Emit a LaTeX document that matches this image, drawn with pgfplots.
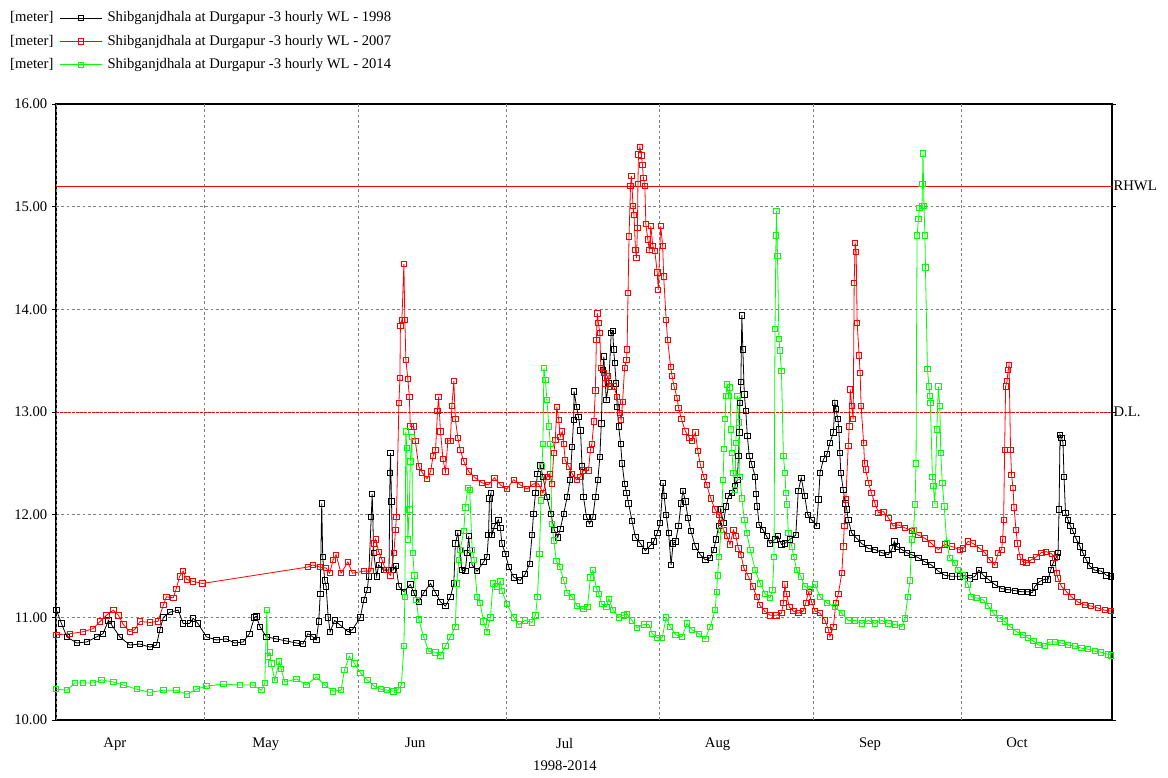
\documentclass[border=0pt]{standalone}
\usepackage{fontspec}
\setmainfont{Liberation Serif}
\usepackage{pgfplots}
\pgfplotsset{compat=1.18}
\definecolor{wlgreen}{RGB}{0,255,0}
\definecolor{wlred}{RGB}{255,0,0}
\begin{document}
\begin{tikzpicture}
\begin{axis}[
  scale only axis, width=792pt, height=462pt,
  xmin=0, xmax=213.4, ymin=10, ymax=16,
  clip=false,
  axis line style={black, line width=0.8pt},
  font=\fontsize{11}{13}\selectfont,
  ticklabel style={font=\fontsize{11}{13}\selectfont},
  /pgf/number format/assume math mode=true,
  ytick={10,11,12,13,14,15,16},
  yticklabel style={/pgf/number format/fixed, /pgf/number format/fixed zerofill, /pgf/number format/precision=2},
  ymajorgrids,
  grid style={gray, dash pattern=on 2pt off 2pt, line width=0.5pt},
  tick align=outside,
  major tick length=3pt,
  ytick style={black, line width=0.5pt},
  xtick={11.9,42.4,72.6,102.8,133.7,164.5,194.2},
  xticklabels={Apr,May,Jun,Jul,Aug,Sep,Oct},
  xtick style={draw=none},
  xticklabel style={yshift=-7pt},
  extra x ticks={0,30,61,91,122,153,183},
  extra x tick labels={},
  extra x tick style={grid=major, major tick length=6pt, tick style={draw=gray, dash pattern=on 2pt off 2pt, line width=0.5pt}},
  xlabel={1998-2014},
  xlabel style={at={(axis description cs:0.482,0)}, anchor=north, yshift=-27pt, font=\fontsize{11}{13}\selectfont},
  legend style={at={(axis description cs:-0.0436,1.052)}, anchor=south west, draw=none, fill=none, inner sep=0pt,
    font=\fontsize{11}{13}\selectfont, row sep=7pt, column sep=4pt,
    nodes={inner sep=0pt, text height=8pt, text depth=2.5pt}},
  legend cell align=left,
  legend image code/.code={
    \node[anchor=east, text=black, inner sep=0pt] at (-4.5pt,0pt) {[meter]};
    \draw[mark repeat=2,mark phase=2,#1] plot coordinates {(0pt,0pt) (15.75pt,0pt) (31.5pt,0pt)};
  },
  every axis plot/.append style={line width=0.6pt, mark=square, mark size=2pt, mark options={solid, line width=0.6pt}},
]
% reference lines
\addplot[wlred, line width=0.8pt, mark=none, forget plot] coordinates {(0,15.2) (213.4,15.2)};
\addplot[wlred, line width=0.6pt, mark=none, dash pattern=on 2pt off 1pt, forget plot] coordinates {(0,13) (213.4,13)};
\node[anchor=west, inner sep=1pt] at (axis cs:213.4,15.2) {RHWL};
\node[anchor=west, inner sep=1pt] at (axis cs:213.4,13) {D.L.};

% 1998
\addplot[black] coordinates {
(0.1,11.07) (1.1,10.94) (2.2,10.81) (4.2,10.75) (6.2,10.76) (8.2,10.81) (9.5,10.84) (10.6,10.97) (11.2,10.93) (12.9,10.81) (14.9,10.73) (16.9,10.74) (19.0,10.71) (20.3,10.73) (21.0,10.88) (21.7,11.00) (23.0,11.05) (24.7,11.07) (25.7,10.94) (27.0,10.94) (27.7,10.99) (28.7,10.94) (30.4,10.81) (32.4,10.78) (34.4,10.79) (36.1,10.75) (37.8,10.76) (39.1,10.84) (40.1,11.00) (40.5,11.01) (41.2,10.91) (42.5,10.81) (44.5,10.79) (46.5,10.77) (48.6,10.75) (49.9,10.74) (50.9,10.84) (51.9,10.81) (52.6,10.78) (53.1,10.96) (53.4,11.23) (53.7,12.11) (53.9,11.59) (54.3,11.36) (54.6,11.30) (55.0,11.00) (55.4,10.86) (56.3,10.97) (57.3,10.93) (59.0,10.86)
(59.9,10.88) (61.5,11.00) (62.2,11.17) (62.9,11.27) (63.2,11.40) (63.7,11.98) (63.9,12.20) (64.2,11.63) (64.8,11.40) (65.2,11.51) (66.2,11.46) (67.3,11.46) (67.5,12.41) (67.6,12.60) (67.8,12.13) (68.1,11.46) (68.7,11.50) (69.3,11.30) (70.3,11.25) (71.6,11.32) (72.3,11.24) (73.3,11.15) (74.3,11.24) (75.7,11.33) (76.7,11.24) (77.7,11.15) (78.7,11.11) (79.7,11.20) (80.4,11.33) (80.7,11.72) (81.2,11.82) (81.6,11.66) (82.0,11.46) (82.7,11.45) (83.1,11.63) (83.4,11.79) (83.6,11.66) (84.1,11.51) (85.1,11.45) (86.4,11.54) (87.1,11.59) (87.4,11.80) (87.6,12.16) (87.9,12.21) (88.1,11.80) (88.6,11.89) (89.4,11.95) (89.8,11.87)
(90.1,11.72) (90.8,11.62) (91.5,11.49) (92.5,11.39) (93.8,11.36) (94.8,11.42) (95.7,11.52) (96.2,11.80) (96.5,12.01) (96.9,12.21) (97.3,12.40) (97.9,12.48) (98.4,12.37) (99.2,12.17) (100.0,12.01) (100.7,11.85) (101.4,11.78) (101.9,11.86) (102.6,12.01) (103.3,12.17) (103.9,12.34) (104.3,12.66) (104.6,12.92) (104.7,13.20) (105.2,13.05) (105.6,12.95) (106.0,12.82) (106.3,12.47) (106.6,12.17) (107.2,11.98) (107.8,11.91) (108.5,11.98) (109.0,12.17) (109.5,12.34) (109.9,12.56) (110.2,12.89) (110.5,13.41) (110.7,13.54) (111.2,13.12) (111.7,13.28) (112.2,13.77) (112.5,13.79) (112.7,13.61) (112.9,13.48) (113.2,13.28) (113.4,13.05) (113.7,12.86) (114.1,12.69) (114.4,12.50) (114.9,12.30) (115.3,12.21) (115.7,12.11) (116.4,11.94) (117.1,11.78) (118.1,11.72) (119.1,11.65) (120.1,11.70)
(120.8,11.74) (121.5,11.82) (122.1,11.92) (122.7,12.31) (122.9,12.18) (123.3,12.00) (123.8,11.82) (124.3,11.51) (124.7,11.72) (125.2,11.74) (125.8,11.89) (126.3,12.11) (126.7,12.23) (127.2,12.13) (127.7,11.97) (128.3,11.84) (129.2,11.69) (130.2,11.61) (131.2,11.56) (132.2,11.58) (132.9,11.66) (133.4,11.76) (133.9,11.89) (134.3,12.05) (134.9,11.92) (135.4,12.08) (135.9,12.18) (136.6,12.21) (137.2,12.28) (137.7,12.34) (137.9,12.57) (138.1,12.80) (138.2,13.09) (138.4,13.29) (138.6,13.94) (138.8,13.61) (139.1,13.17) (139.4,13.01) (139.7,12.77) (140.1,12.57) (140.6,12.49) (141.3,12.37) (141.5,12.20) (141.7,12.08) (142.1,11.90) (142.9,11.85) (143.6,11.79) (144.3,11.72) (145.3,11.76) (145.9,11.79) (146.6,11.71) (147.3,11.72) (148.3,11.76) (149.5,11.80) (150.0,12.23) (150.6,12.36) (151.3,12.18)
(151.9,12.00) (152.7,11.95) (153.7,11.89) (154.1,12.15) (154.4,12.41) (155.1,12.54) (155.8,12.59) (156.4,12.70) (157.1,12.80) (157.4,13.09) (157.6,13.03) (158.0,12.93) (158.2,12.83) (158.4,12.60) (158.6,12.41) (159.1,12.24) (159.5,12.11) (159.8,12.05) (160.1,11.95) (160.8,11.82) (161.8,11.77) (162.8,11.72) (164.2,11.67) (165.5,11.66) (166.9,11.63) (168.2,11.61) (169.0,11.67) (169.4,11.74) (169.9,11.69) (170.9,11.66) (171.9,11.63) (172.9,11.61) (174.3,11.58) (175.6,11.54) (176.9,11.51) (178.3,11.45) (179.6,11.41) (181.0,11.40)
(182.7,11.40) (183.7,11.41) (184.7,11.38) (185.7,11.40) (186.5,11.46) (187.4,11.41) (188.4,11.37) (189.7,11.32) (191.1,11.28) (192.4,11.27) (193.8,11.26) (195.1,11.25) (196.4,11.25) (197.3,11.24) (197.8,11.30) (198.8,11.35) (199.8,11.37) (200.5,11.37) (201.0,11.46) (201.5,11.53) (202.2,11.59) (202.5,11.63) (202.7,12.05) (202.9,12.78) (203.2,12.75) (203.5,12.70) (203.7,12.37) (204.0,12.02) (204.5,11.95) (205.0,11.89) (205.5,11.84) (206.2,11.76) (206.9,11.69) (207.5,11.63) (208.2,11.56) (208.9,11.50) (209.9,11.46) (211.2,11.45) (212.3,11.41) (213.2,11.40)
};
\addlegendentry{Shibganjdhala at Durgapur -3 hourly WL - 1998}

% 2007
\addplot[wlred] coordinates {
(0.1,10.83) (2.8,10.84) (5.5,10.86) (7.5,10.89) (8.9,10.96) (10.2,11.02) (11.6,11.07) (12.6,11.02) (13.6,10.93) (14.9,10.86) (15.9,10.88) (17.0,10.96) (19.0,10.95) (20.6,10.96) (21.7,11.12) (22.3,11.20) (23.7,11.19) (24.3,11.28) (25.0,11.40) (25.7,11.45) (26.4,11.37) (27.7,11.35) (29.6,11.33) (50.9,11.49) (51.9,11.51) (53.3,11.49) (54.6,11.48) (55.3,11.43) (56.0,11.56) (56.6,11.61) (57.6,11.43) (59.0,11.54)
(59.9,11.43) (62.2,11.45) (63.6,11.45) (64.2,11.72) (64.6,11.76) (65.2,11.64) (65.9,11.56) (66.6,11.46) (67.6,11.41) (68.3,11.63) (68.6,11.85) (68.8,11.98) (69.3,13.09) (69.5,13.33) (69.6,13.84) (69.9,13.90) (70.3,14.44) (70.5,13.90) (70.7,13.51) (71.1,13.32) (71.4,13.15) (71.6,12.86) (72.3,12.86) (72.6,12.72) (73.3,12.47) (74.0,12.41) (75.0,12.35) (75.7,12.42) (76.2,12.57) (76.7,12.63) (77.1,13.01) (77.3,13.15) (77.7,12.81) (78.2,12.54) (78.7,12.42) (79.2,12.72) (79.7,12.72) (80.0,13.06) (80.4,13.30) (80.7,12.93) (81.2,12.75) (81.7,12.63) (82.4,12.52) (83.4,12.42) (84.7,12.36) (86.1,12.31) (87.4,12.29) (88.6,12.36) (89.8,12.29)
(91.1,12.25) (92.5,12.34) (93.8,12.29) (95.2,12.25) (96.5,12.30) (97.5,12.30) (98.4,12.21) (99.2,12.37) (99.8,12.40) (100.2,12.30) (100.6,12.60) (100.9,12.73) (101.2,13.05) (101.6,12.92) (101.9,12.76) (102.3,12.81) (102.6,12.69) (102.9,12.53) (103.6,12.47) (104.3,12.40) (105.2,12.34) (106.0,12.37) (106.6,12.43) (107.6,12.43) (108.0,12.63) (108.3,12.69) (108.7,12.91) (109.0,13.21) (109.2,13.70) (109.4,13.96) (109.6,13.87) (109.9,13.77) (110.1,13.43) (110.7,13.38) (111.0,13.28) (111.5,13.35) (112.0,13.25) (112.7,13.25) (113.4,13.15) (113.9,12.99) (114.2,12.92) (114.5,13.10) (114.9,13.43) (115.3,13.51) (115.4,13.61) (115.6,14.16) (115.8,14.71) (116.1,15.20) (116.3,15.30) (116.6,15.01) (116.8,14.92) (117.1,14.58) (117.3,14.50) (117.5,14.79) (117.6,15.22) (117.7,15.51) (118.0,15.58) (118.3,15.50) (118.5,15.41) (118.7,15.28) (119.0,15.20) (119.2,14.83) (119.6,14.68) (119.9,14.58) (120.2,14.81) (120.6,14.62) (121.0,14.57) (121.5,14.36) (121.7,14.19) (122.2,14.81) (122.6,14.62) (122.8,14.32) (123.3,13.90) (123.6,13.70) (124.2,13.44)
(124.5,13.35) (124.9,13.25) (125.5,13.14) (125.8,13.04) (126.4,12.93) (127.2,12.81) (128.0,12.75) (128.5,12.72) (129.2,12.80) (129.7,12.62) (130.2,12.49) (130.9,12.37) (131.5,12.29) (132.3,12.16) (133.2,12.05) (133.9,12.00) (134.3,11.92) (134.9,11.85) (135.6,11.79) (136.2,11.71) (136.9,11.85) (137.4,11.79) (137.9,11.67) (138.4,11.61) (139.0,11.48) (139.9,11.40) (140.8,11.30) (141.6,11.20) (142.2,11.12) (143.2,11.06) (144.3,11.02) (145.6,11.02) (146.6,11.04) (147.0,11.14) (147.3,11.32) (147.6,11.23) (148.2,11.10) (149.0,11.06) (150.0,11.04) (151.0,11.06)
(151.5,11.14) (152.1,11.25) (152.7,11.15) (153.4,11.06) (154.4,11.04) (155.4,10.97) (156.1,10.88) (156.4,10.81) (157.1,10.91) (157.6,11.14) (158.1,11.23) (158.8,11.43) (159.1,11.69) (159.3,11.89) (159.6,12.15) (160.1,12.67) (160.3,12.86) (160.5,13.22) (160.8,13.06) (161.1,12.93) (161.3,14.26) (161.5,14.65) (161.7,14.56) (161.9,13.87) (162.3,13.55) (162.5,13.38) (162.7,13.06) (163.2,12.70) (163.4,12.50) (163.6,12.44) (164.2,12.31) (164.8,12.21) (165.5,12.11) (166.2,12.02) (167.2,12.03) (168.2,11.97) (169.2,11.89) (170.2,11.90) (171.6,11.87) (172.9,11.84) (174.3,11.80) (175.6,11.77) (176.9,11.72) (178.3,11.66) (179.6,11.71) (181.0,11.69)
(182.7,11.66) (183.3,11.67) (184.3,11.74) (185.3,11.72) (186.7,11.67) (187.7,11.63) (188.7,11.56) (189.7,11.51) (190.4,11.63) (191.1,11.66) (191.3,11.76) (191.5,11.95) (191.7,12.63) (191.9,13.25) (192.2,13.30) (192.4,13.41) (192.6,13.46) (192.9,12.63) (193.1,12.39) (193.4,12.26) (193.6,12.07) (194.0,11.85) (194.3,11.72) (194.8,11.59) (195.4,11.54) (196.1,11.53) (197.1,11.56) (198.1,11.59) (199.1,11.63) (200.1,11.64) (201.2,11.62) (201.8,11.58) (202.2,11.43) (202.5,11.38) (203.2,11.30) (204.2,11.25) (205.2,11.20) (206.5,11.15) (207.9,11.12) (209.2,11.11) (210.6,11.09) (211.9,11.07) (213.2,11.06)
};
\addlegendentry{Shibganjdhala at Durgapur -3 hourly WL - 2007}

% 2014
\addplot[wlgreen] coordinates {
(0.0,10.30) (2.2,10.29) (3.8,10.36) (5.5,10.36) (7.5,10.36) (9.2,10.39) (11.6,10.37) (13.6,10.34) (16.3,10.30) (19.0,10.27) (21.7,10.29) (24.3,10.29) (26.4,10.25) (28.4,10.30) (30.4,10.33) (33.8,10.35) (37.1,10.34) (39.8,10.34) (41.5,10.29) (42.2,10.36) (42.6,11.07) (42.8,10.62) (43.2,10.66) (43.5,10.55) (44.2,10.39) (45.1,10.57) (45.5,10.50) (46.2,10.37) (48.6,10.40) (50.6,10.34) (52.6,10.42) (54.3,10.34) (56.0,10.28) (57.6,10.29) (58.3,10.49) (59.3,10.62)
(60.3,10.55) (61.5,10.46) (62.9,10.39) (64.3,10.33) (65.6,10.30) (66.9,10.29) (68.2,10.28) (69.0,10.29) (69.8,10.34) (70.3,10.72) (70.5,11.20) (70.7,12.81) (70.9,12.65) (71.1,11.76) (71.4,12.05) (71.6,12.52) (71.9,12.76) (72.1,11.63) (72.4,11.41) (72.8,11.17) (73.3,10.98) (74.3,10.81) (75.3,10.67) (76.7,10.66) (77.7,10.63) (78.7,10.72) (79.7,10.81) (80.7,10.91) (81.0,11.33) (81.4,11.56) (81.7,11.66) (82.4,11.84) (82.7,12.07) (83.2,12.26) (83.6,12.24) (84.1,11.66) (84.5,11.56) (85.1,11.20) (85.7,11.14) (86.4,10.96) (87.1,10.86) (87.8,11.00) (88.3,11.33) (89.1,11.30) (89.8,11.35)
(90.1,11.26) (91.1,11.13) (92.5,11.00) (93.5,10.93) (94.8,10.97) (96.2,10.95) (96.9,11.02) (97.3,11.20) (97.7,11.62) (98.0,12.14) (98.2,12.47) (98.4,12.69) (98.6,13.43) (98.9,13.31) (99.2,13.12) (99.6,12.86) (99.9,12.69) (100.2,11.91) (100.6,11.75) (101.1,11.55) (101.8,11.49) (102.6,11.36) (103.3,11.24) (104.3,11.20) (105.3,11.11) (106.6,11.08) (107.4,11.10) (108.0,11.39) (108.5,11.46) (109.2,11.28) (109.7,11.23) (110.3,11.13) (111.2,11.10) (111.7,11.18) (112.6,11.07) (113.7,11.00) (114.7,11.02) (115.4,11.03) (116.4,10.97) (117.4,10.90) (118.8,10.93) (119.8,10.93)
(120.5,10.84) (121.5,10.80) (122.5,10.80) (123.3,11.00) (124.1,10.91) (125.2,10.83) (126.5,10.81) (127.5,10.94) (128.5,10.88) (129.9,10.84) (131.2,10.79) (132.2,10.91) (133.2,11.07) (133.5,11.25) (133.7,11.41) (134.0,11.59) (134.4,11.85) (134.8,12.34) (135.0,12.64) (135.2,12.93) (135.4,13.16) (135.6,13.27) (135.9,13.16) (136.2,13.24) (136.4,12.83) (136.6,12.60) (136.9,12.41) (137.2,12.24) (137.4,12.70) (137.7,13.16) (138.0,12.90) (138.2,12.37) (138.6,12.16) (139.1,11.95) (139.6,11.82) (140.3,11.66) (141.3,11.46) (142.3,11.33) (143.3,11.23) (144.3,11.19) (144.8,11.27) (145.1,11.59) (145.3,13.81) (145.5,14.72) (145.6,14.96) (145.8,14.52) (146.1,13.71) (146.3,13.60) (146.6,13.40) (147.0,12.57) (147.3,12.41) (147.5,12.21) (147.7,12.10) (148.0,11.82) (148.7,11.69) (149.1,11.59) (149.7,11.46) (150.5,11.40) (151.3,11.30)
(152.4,11.28) (153.4,11.32) (154.4,11.20) (155.8,11.14) (157.4,11.10) (158.8,11.04) (160.1,10.97) (161.5,10.97) (162.8,10.94) (164.2,10.97) (165.5,10.94) (166.9,10.97) (168.2,10.94) (169.5,10.93) (170.9,10.91) (171.6,10.99) (172.1,11.20) (172.6,11.36) (172.9,11.76) (173.3,11.85) (173.6,12.10) (173.8,12.50) (174.0,14.72) (174.3,14.88) (174.5,14.99) (175.0,15.01) (175.1,15.22) (175.2,15.52) (175.4,15.01) (175.6,14.72) (175.7,14.41) (176.1,13.42) (176.4,13.25) (176.6,13.16) (176.7,13.09) (177.1,12.37) (177.3,12.28) (177.6,12.10) (178.0,12.83) (178.3,13.25) (178.6,13.06) (178.8,12.60) (179.1,12.31) (179.5,12.08) (180.0,11.72) (180.6,11.58) (181.6,11.53)
(182.3,11.46) (183.3,11.41) (184.3,11.32) (185.0,11.20) (186.0,11.19) (187.4,11.17) (188.4,11.11) (189.4,11.04) (190.7,10.99) (191.7,10.96) (192.8,10.91) (194.1,10.86) (195.4,10.83) (196.4,10.80) (197.5,10.77) (198.5,10.73) (199.8,10.72) (200.8,10.76) (201.8,10.76) (203.2,10.75) (204.5,10.73) (205.9,10.72) (207.2,10.70) (208.5,10.69) (209.9,10.67) (211.2,10.66) (212.6,10.64) (213.2,10.63)
};
\addlegendentry{Shibganjdhala at Durgapur -3 hourly WL - 2014}
\end{axis}
\path[use as bounding box] (-42pt,-43.5pt) rectangle (834pt,540pt);
\end{tikzpicture}
\end{document}
